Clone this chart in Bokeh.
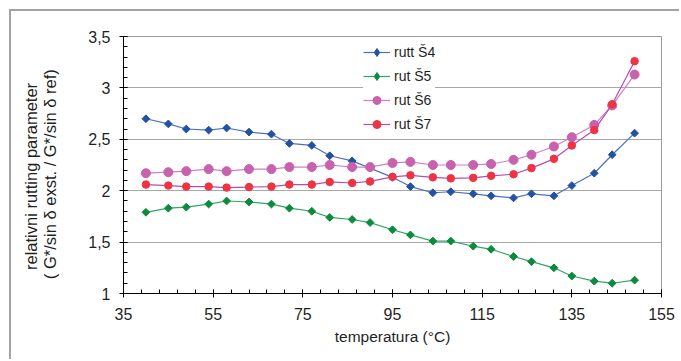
import numpy as np
from bokeh.plotting import figure
from bokeh.models import (Range1d, FixedTicker, Legend, LegendItem,
                          CustomJSTickFormatter)
from bokeh.embed import file_html
from bokeh.resources import INLINE

# ---- data ----
temperature = [40, 45, 49, 54, 58, 63, 68, 72, 77, 81, 86, 90, 95, 99, 104,
               108, 113, 117, 122, 126, 131, 135, 140, 144, 149]
rutt_S4 = [2.70, 2.65, 2.60, 2.59, 2.61, 2.57, 2.55, 2.46, 2.44, 2.34, 2.29,
           2.22, 2.13, 2.04, 1.98, 1.99, 1.97, 1.95, 1.93, 1.97, 1.95, 2.05,
           2.17, 2.35, 2.56]
rut_S5 = [1.79, 1.83, 1.84, 1.87, 1.90, 1.89, 1.87, 1.83, 1.80, 1.74, 1.72,
          1.69, 1.62, 1.57, 1.51, 1.51, 1.46, 1.43, 1.36, 1.31, 1.25, 1.17,
          1.12, 1.10, 1.13]
rut_S6 = [2.17, 2.18, 2.19, 2.21, 2.19, 2.21, 2.21, 2.23, 2.23, 2.25, 2.23,
          2.23, 2.27, 2.28, 2.25, 2.25, 2.25, 2.26, 2.30, 2.35, 2.43, 2.52,
          2.64, 2.83, 3.13]
rut_S7 = [2.06, 2.05, 2.04, 2.04, 2.03, 2.035, 2.04, 2.06, 2.06, 2.085, 2.075,
          2.09, 2.135, 2.15, 2.13, 2.12, 2.125, 2.145, 2.16, 2.22, 2.31, 2.44,
          2.59, 2.84, 3.26]
series_labels = ["rutt Š4", "rut Š5", "rut Š6", "rut Š7"]
x_ticks = [35, 55, 75, 95, 115, 135, 155]
y_ticks = [1, 1.5, 2, 2.5, 3, 3.5]
y_title_lines = ["relativni rutting parameter", "( G*/sin δ exst. / G*/sin δ ref)"]
x_title = "temperatura (°C)"

FONT = "Liberation Sans"
TXT = "#1f1f1f"

p = figure(width=670, height=350, output_backend="svg", toolbar_location=None,
           x_range=Range1d(35, 155), y_range=Range1d(1, 3.5),
           min_border_left=112, min_border_right=20, min_border_top=25,
           min_border_bottom=68, background_fill_color="white",
           border_fill_color="white")
p.margin = (9, 0, 0, 9)
p.styles = {"border-left": "2px solid #a3a3a3", "border-top": "2px solid #a3a3a3"}

p.outline_line_color = "#9a9a9a"
p.outline_line_width = 1
p.xgrid.visible = False
p.ygrid.grid_line_color = "#a8a8a8"
p.ygrid.grid_line_width = 1

p.xaxis.ticker = FixedTicker(ticks=x_ticks, minor_ticks=list(np.arange(35, 156, 4)))
p.yaxis.ticker = FixedTicker(ticks=y_ticks, minor_ticks=list(np.round(np.arange(1, 3.51, 0.1), 2)))
p.yaxis.formatter = CustomJSTickFormatter(code="return String(tick).replace('.', ',');")
p.xaxis.formatter = CustomJSTickFormatter(code="return String(tick);")

for ax in (p.xaxis[0], p.yaxis[0]):
    ax.axis_line_color = "#000000"
    ax.axis_line_width = 1
    ax.major_tick_line_color = "#000000"
    ax.minor_tick_line_color = "#000000"
    ax.major_tick_in = 4
    ax.major_tick_out = 4
    ax.minor_tick_in = 4
    ax.minor_tick_out = 0
    ax.major_label_text_font = FONT
    ax.major_label_text_font_size = "16px"
    ax.major_label_text_color = TXT
    ax.axis_label_text_font = FONT
    ax.axis_label_text_font_style = "normal"
    ax.axis_label_text_color = TXT

p.xaxis.axis_label_text_font_size = "15.5px"
p.yaxis.axis_label_text_font_size = "16.5px"
p.yaxis.axis_label_text_line_height = 1.09

p.xaxis.major_label_standoff = 10
p.yaxis.major_label_standoff = 9
p.xaxis.axis_label = x_title
p.xaxis.axis_label_standoff = 5
# trailing no-break spaces shift the centred title slightly downwards, as in the reference
p.yaxis.axis_label = (y_title_lines[0] + "\u00a0" * 5 + "\n"
                      + y_title_lines[1] + "\u00a0" * 4)
p.yaxis.axis_label_standoff = 26

styles = [
    dict(line="#4a72c4", mk="#2352a5", marker="square", size=5.5, angle=np.pi / 4, lmk="diamond"),
    dict(line="#30a862", mk="#0b8a40", marker="square", size=5.5, angle=np.pi / 4, lmk="diamond"),
    dict(line="#d57cc3", mk="#c862ad", marker="circle", size=9, angle=0, lmk="circle"),
    dict(line="#b84ab8", mk="#ef3340", marker="circle", size=7.5, angle=0, lmk="circle"),
]
items = []
for ys, lab, st in zip([rutt_S4, rut_S5, rut_S6, rut_S7], series_labels, styles):
    lr = p.line(temperature, ys, line_color=st["line"], line_width=1.2)
    sr = p.scatter(temperature, ys, marker=st["marker"], size=st["size"],
                   angle=st["angle"], fill_color=st["mk"], line_color=st["mk"],
                   line_width=1)
    # legend-only twin (legend markers are never rotated, so use a diamond marker)
    proxy = p.scatter(temperature, ys, marker=st["lmk"], size=st["size"],
                      fill_color=st["mk"], line_color=st["mk"], line_width=1,
                      visible=False)
    items.append(LegendItem(label=lab, renderers=[lr, proxy]))

legend = Legend(items=items, location=(240, 159.5), margin=0, padding=3,
                spacing=4, glyph_width=27, glyph_height=20, label_height=20,
                label_standoff=4, border_line_color=None,
                background_fill_color="white", background_fill_alpha=1,
                label_text_font=FONT, label_text_font_size="14px",
                label_text_color=TXT)
p.add_layout(legend)

open("out.html", "w").write(file_html(p, INLINE))
